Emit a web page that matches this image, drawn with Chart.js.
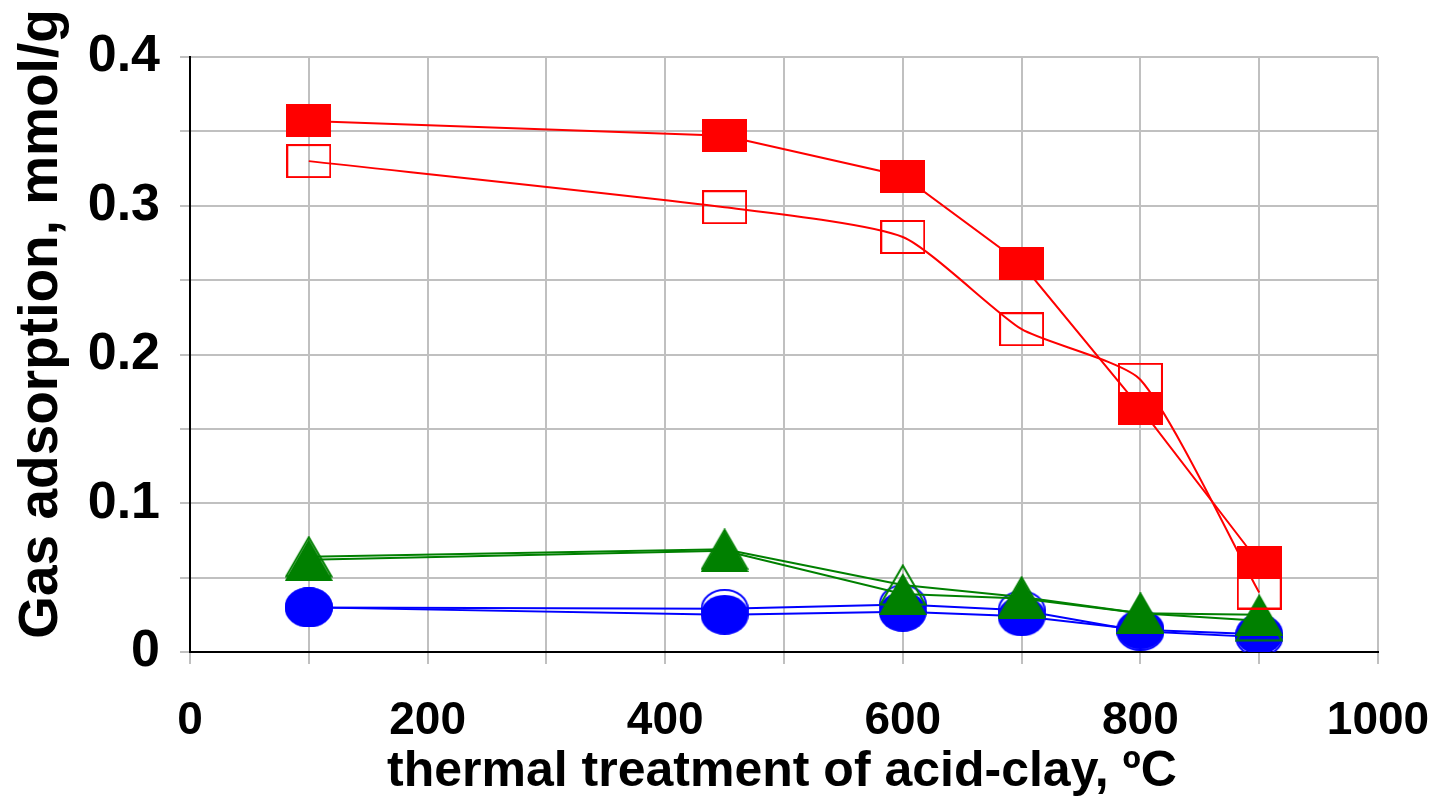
<!DOCTYPE html>
<html>
<head>
<meta charset="utf-8">
<script src="https://cdn.jsdelivr.net/npm/chart.js@4"></script>
<style>
  body { margin: 0; background: #fff; }
  #wrap { width: 1440px; height: 802px; position: relative; }
</style>
</head>
<body>
<div id="wrap"><canvas id="chart"></canvas></div>
<script>
// temperatures of thermal treatment, ºC
const temps = [100, 450, 600, 700, 800, 900];

// gas adsorption, mmol/g
const redFilled = [0.357, 0.347, 0.320, 0.261, 0.164, 0.060];
const redOpen = [0.330, 0.299, 0.279, 0.217, 0.183, 0.040];
const greenFilled = [0.062, 0.068, 0.039, 0.036, 0.026, 0.025];
const greenOpen = [0.064, 0.069, 0.045, 0.037, 0.026, 0.021];
const blueFilled = [0.030, 0.025, 0.027, 0.024, 0.015, 0.012];
const blueOpen = [0.030, 0.029, 0.032, 0.028, 0.014, 0.010];

const xTitle = "thermal treatment of acid-clay, ºC";
const yTitle = "Gas adsorption, mmol/g";

const RED = "#ff0000";
const GREEN = "#008000";
const BLUE = "#0000ff";

// marker pictures (the original markers are a bit wider than tall)
function makeMarker(shape, color, filled, w, h) {
  const c = document.createElement("canvas");
  c.width = w;
  c.height = h;
  const g = c.getContext("2d");
  g.fillStyle = color;
  g.strokeStyle = color;
  g.lineWidth = 2;
  g.beginPath();
  if (shape === "rect") {
    if (filled) g.rect(0, 0, w, h);
    else g.rect(1, 1, w - 2, h - 2);
  } else if (shape === "triangle") {
    const i = filled ? 0 : 1.5;
    g.moveTo(w / 2, i);
    g.lineTo(w - i, h - i);
    g.lineTo(i, h - i);
    g.closePath();
  } else {
    const i = filled ? 0 : 1;
    g.ellipse(w / 2, h / 2, w / 2 - i, h / 2 - i, 0, 0, Math.PI * 2);
  }
  if (filled) g.fill();
  else g.stroke();
  return c;
}

function series(data, color, marker, tension) {
  return {
    data: data.map((v, i) => ({ x: temps[i], y: v })),
    borderColor: color,
    borderWidth: 2,
    pointStyle: marker,
    pointRadius: 20,
    pointHoverRadius: 20,
    tension: tension,
    fill: false,
  };
}

// titles are drawn by hand so they sit where they do in the original
const titlePlugin = {
  id: "titles",
  afterDraw(chart) {
    const ctx = chart.ctx;
    ctx.save();
    ctx.fillStyle = "#000";
    ctx.textAlign = "center";
    ctx.font = 'bold 50px "Liberation Sans", Arial, sans-serif';
    ctx.textBaseline = "alphabetic";
    ctx.fillText(xTitle, 782, 786);
    ctx.translate(42, 324);
    ctx.rotate(-Math.PI / 2);
    ctx.font = 'bold 55px "Liberation Sans", Arial, sans-serif';
    ctx.textBaseline = "middle";
    ctx.fillText(yTitle, 0, 0);
    ctx.restore();
  },
};

const ctx = document.getElementById("chart").getContext("2d");
new Chart(ctx, {
  type: "line",
  data: {
    datasets: [
      series(redFilled, RED, makeMarker("rect", RED, true, 45, 33), 0),
      series(redOpen, RED, makeMarker("rect", RED, false, 45, 34), 0.2),
      series(greenFilled, GREEN, makeMarker("triangle", GREEN, true, 48, 42), 0),
      series(greenOpen, GREEN, makeMarker("triangle", GREEN, false, 48, 42), 0),
      series(blueFilled, BLUE, makeMarker("circle", BLUE, true, 48, 40), 0),
      series(blueOpen, BLUE, makeMarker("circle", BLUE, false, 48, 40), 0),
    ],
  },
  options: {
    responsive: true,
    maintainAspectRatio: false,
    animation: false,
    events: [],
    layout: { padding: { top: 57, right: 62, left: 0, bottom: 0 } },
    plugins: {
      legend: { display: false },
      tooltip: { enabled: false },
    },
    scales: {
      x: {
        type: "linear",
        min: 0,
        max: 1000,
        afterFit(scale) {
          scale.height = 150;
          // keep the plot edge fixed, the last label may hang over
          scale.paddingLeft = 0;
          scale.paddingRight = 0;
        },
        border: { display: true, color: "#000", width: 2 },
        grid: { color: "#c0c0c0", lineWidth: 2, tickLength: 12 },
        ticks: {
          stepSize: 100,
          maxRotation: 0,
          autoSkip: false,
          padding: 30,
          color: "#000",
          font: { family: '"Liberation Sans", Arial, sans-serif', size: 46, weight: "bold" },
          callback: (v) => (v % 200 === 0 ? String(v) : ""),
        },
      },
      y: {
        min: 0,
        max: 0.4,
        afterFit(scale) {
          scale.width = 190;
        },
        border: { display: true, color: "#000", width: 2 },
        grid: { color: "#c0c0c0", lineWidth: 2, tickLength: 10 },
        ticks: {
          stepSize: 0.05,
          autoSkip: false,
          padding: 20,
          color: "#000",
          font: { family: '"Liberation Sans", Arial, sans-serif', size: 52, weight: "bold" },
          callback: (v) => {
            const n = Math.round(v * 100);
            return n % 10 === 0 ? String(n / 100) : "";
          },
        },
      },
    },
  },
  plugins: [titlePlugin],
});
</script>
</body>
</html>
